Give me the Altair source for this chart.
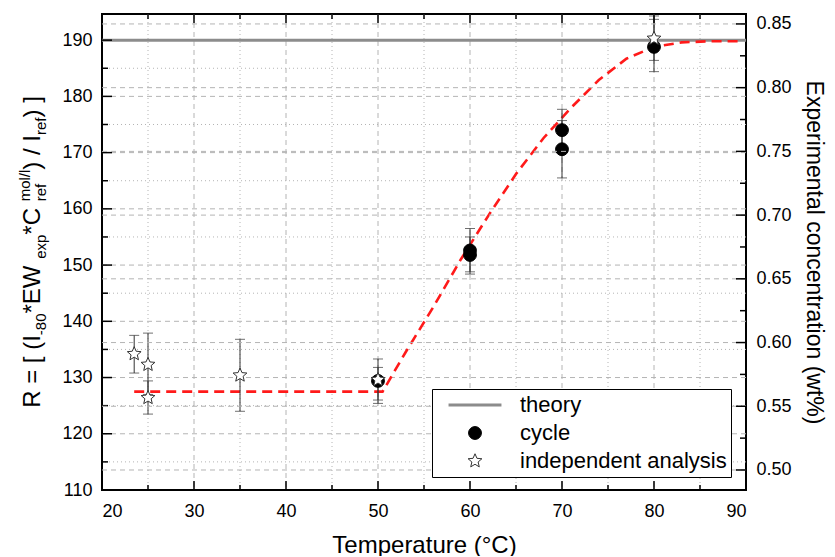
import altair as alt
import pandas as pd

# ---------------- data ----------------
temp_cycle = [50, 60, 60, 70, 70, 80]
r_cycle = [129.4, 152.6, 151.8, 174.0, 170.6, 188.8]
lo_cycle = [125.4, 148.4, 148.8, 170.3, 165.5, 184.4]
hi_cycle = [131.8, 156.5, 155.0, 177.7, 175.7, 193.7]

temp_ind = [23.5, 25, 25, 35, 50, 80]
r_ind = [134.2, 132.3, 126.4, 130.4, 129.6, 190.3]
lo_ind = [130.8, 127.0, 123.5, 124.0, 126.0, 186.4]
hi_ind = [137.5, 137.9, 129.4, 136.8, 133.3, 194.3]

fit_t = [23.5, 50.5, 53, 56, 59, 62, 65, 68, 71, 74, 77, 80, 83, 86, 89.5]
fit_r = [127.5, 127.5, 134.5, 142.5, 151.0, 158.8, 166.2, 172.6, 178.0, 182.9, 186.7, 188.8, 189.6, 189.8, 189.8]

theory_r = [190]

x_major = [20, 30, 40, 50, 60, 70, 80, 90]
x_minor = [25, 35, 45, 55, 65, 75, 85]
left_major = [110, 120, 130, 140, 150, 160, 170, 180, 190]
left_minor = [115, 125, 135, 145, 155, 165, 175, 185]
right_major = [0.50, 0.55, 0.60, 0.65, 0.70, 0.75, 0.80, 0.85]
right_minor = [0.525, 0.575, 0.625, 0.675, 0.725, 0.775, 0.825]

series = ["theory", "cycle", "independent analysis"]

# ---------------- layout ----------------
W, H = 644, 476
FONT = "Liberation Sans"
GRID = "#b4b4b4"
ERR = "#333333"

xs = alt.Scale(domain=[20, 90], nice=False, zero=False)
yl = alt.Scale(domain=[110, 194.65], nice=False, zero=False)
yr = alt.Scale(domain=[0.4843, 0.8578], nice=False, zero=False)

STAR = ("M0,-1L0.27,-0.37L0.95,-0.31L0.43,0.14L0.59,0.81L0,0.45L-0.59,0.81"
        "L-0.43,0.14L-0.95,-0.31L-0.27,-0.37Z")

leg = alt.Legend(title=None, orient="none", legendX=330, legendY=375,
                 labelFontSize=22, labelFont=FONT, labelColor="black", labelLimit=0,
                 padding=4, strokeColor="black", fillColor="white",
                 clipHeight=24, rowPadding=4, symbolOffset=11, labelOffset=17,
                 symbolOpacity=1)

shape_enc = alt.Shape("series:N", scale=alt.Scale(domain=series, range=["stroke", "circle", STAR]), legend=leg)
fill_enc = alt.Fill("series:N", scale=alt.Scale(domain=series, range=["#8c8c8c", "black", "white"]), legend=leg)
stroke_enc = alt.Stroke("series:N", scale=alt.Scale(domain=series, range=["#8c8c8c", "black", "#333333"]), legend=leg)
size_enc = alt.Size("series:N", scale=alt.Scale(type="ordinal", domain=series, range=[2800, 165, 210]), legend=leg)
sw_enc = alt.StrokeWidth("series:N", scale=alt.Scale(type="ordinal", domain=series, range=[3, 1, 1]), legend=leg)

df_x_major = pd.DataFrame({"t": x_major[1:-1]})
df_x_minor = pd.DataFrame({"t": x_minor})
df_l_major = pd.DataFrame({"r": left_major[1:]})
df_l_minor = pd.DataFrame({"r": left_minor})
df_r_major = pd.DataFrame({"v": right_major})
df_r_minor = pd.DataFrame({"v": right_minor})
df_theory = pd.DataFrame({"r": theory_r, "series": ["theory"]})
df_fit = pd.DataFrame({"t": fit_t, "r": fit_r})
df_pts = pd.DataFrame({
    "t": temp_cycle + temp_ind,
    "r": r_cycle + r_ind,
    "lo": lo_cycle + lo_ind,
    "hi": hi_cycle + hi_ind,
    "series": ["cycle"] * len(temp_cycle) + ["independent analysis"] * len(temp_ind),
})

x_axis = alt.Axis(values=x_major, format="d", ticks=False, tickSize=0, domain=False, grid=False,
                  labelFontSize=18, labelFont=FONT, labelColor="black", labelPadding=12,
                  title="Temperature (°C)", titleFontSize=24, titleFont=FONT,
                  titleFontWeight="normal", titleColor="black", titlePadding=13)
yl_axis = alt.Axis(values=left_major, format="d", ticks=False, tickSize=0, domain=False, grid=False,
                   labelFontSize=18, labelFont=FONT, labelColor="black", labelPadding=10, title="")
yr_axis = alt.Axis(orient="right", values=right_major, format=".2f", ticks=False, tickSize=0,
                   domain=False, grid=False, labelFontSize=18, labelFont=FONT, labelColor="black",
                   labelPadding=10, title="Experimental concentration (wt%)", titleFontSize=23,
                   titleFont=FONT, titleFontWeight="normal", titleColor="black", titleAngle=90,
                   titlePadding=10)

def X(f):
    return alt.X(f, scale=xs, axis=x_axis)

def YL(f):
    return alt.Y(f, scale=yl, axis=yl_axis)

def YR(f):
    return alt.Y(f, scale=yr, axis=yr_axis)

# grid
g_xmaj = alt.Chart(df_x_major).mark_rule(color=GRID, strokeWidth=1, strokeDash=[5, 4]).encode(x=X("t:Q"))
g_xmin = alt.Chart(df_x_minor).mark_rule(color=GRID, strokeWidth=1, strokeDash=[1, 3]).encode(x=X("t:Q"))
g_lmaj = alt.Chart(df_l_major).mark_rule(color=GRID, strokeWidth=1, strokeDash=[5, 4]).encode(y=YL("r:Q"))
g_lmin = alt.Chart(df_l_minor).mark_rule(color=GRID, strokeWidth=1, strokeDash=[1, 3]).encode(y=YL("r:Q"))

theory = alt.Chart(df_theory).mark_rule().encode(y=YL("r:Q"), stroke=stroke_enc, strokeWidth=sw_enc)

fit = alt.Chart(df_fit).mark_line(color="#ff1a1a", strokeWidth=2.6, strokeDash=[10, 6]).encode(
    x=X("t:Q"), y=YL("r:Q"))

err = alt.Chart(df_pts).mark_rule(color=ERR, strokeWidth=1).encode(x=X("t:Q"), y=YL("lo:Q"), y2="hi:Q")
cap_lo = alt.Chart(df_pts).mark_tick(color=ERR, thickness=1, size=10, orient="horizontal").encode(
    x=X("t:Q"), y=YL("lo:Q"))
cap_hi = alt.Chart(df_pts).mark_tick(color=ERR, thickness=1, size=10, orient="horizontal").encode(
    x=X("t:Q"), y=YL("hi:Q"))

pts = alt.Chart(df_pts).mark_point(opacity=1).encode(
    x=X("t:Q"), y=YL("r:Q"),
    shape=shape_enc, fill=fill_enc, stroke=stroke_enc, size=size_enc, strokeWidth=sw_enc)

# inward ticks
def vticks(df, length):
    b = alt.Chart(df).mark_rule(color="black", strokeWidth=1.5).encode(
        x=X("t:Q"), y=alt.value(H), y2=alt.value(H - length))
    t = alt.Chart(df).mark_rule(color="black", strokeWidth=1.5).encode(
        x=X("t:Q"), y=alt.value(0), y2=alt.value(length))
    return [b, t]

def lticks(df, length):
    return [alt.Chart(df).mark_rule(color="black", strokeWidth=1.5).encode(
        y=YL("r:Q"), x=alt.value(0), x2=alt.value(length))]

ticks = (vticks(pd.DataFrame({"t": x_major}), 9) + vticks(pd.DataFrame({"t": x_minor}), 5)
         + lticks(pd.DataFrame({"r": left_major}), 10) + lticks(pd.DataFrame({"r": left_minor}), 6))

# left title with sub/superscripts
AW = {'R': 722, ' ': 278, '=': 584, '[': 278, '(': 333, 'I': 278, '-': 333, '8': 556, '0': 556,
      '*': 389, 'E': 667, 'W': 944, 'e': 556, 'x': 500, 'p': 556, 'C': 722, 'r': 333, 'f': 278,
      'm': 833, 'o': 556, 'l': 222, '/': 278, ')': 333, ']': 278}
MAIN, SUB = 24, 15
segs = [("R = [ (I", "main"), ("-80", "sub"), (" *EW", "main"), ("exp", "sub"), (" *C", "main"),
        ("mol/l", "sup"), ("ref", "subx"), (") / I", "main"), ("ref", "sub"), (") ]", "main")]

def tw(s, size):
    return sum(AW[c] for c in s) / 1000 * size

total = 0
for s, k in segs:
    if k == "main":
        total += tw(s, MAIN)
    elif k in ("sub", "sup"):
        total += tw(s, SUB)
base_x = -62
start_y = H / 2 + total / 2
title_layers = []
pos = 0
for s, k in segs:
    size = MAIN if k == "main" else SUB
    shift = {"main": 0, "sub": 6, "subx": 6, "sup": -10}[k]
    seg_start = pos if k != "subx" else pos - tw("mol/l", SUB)
    title_layers.append(
        alt.Chart(alt.Data(values=[{}])).mark_text(
            angle=270, align="left", baseline="alphabetic", font=FONT, fontSize=size, color="black"
        ).encode(text=alt.value(s), x=alt.value(base_x + shift), y=alt.value(start_y - seg_start)))
    if k != "subx":
        pos += tw(s, size)

left = alt.layer(g_xmin, g_xmaj, g_lmin, g_lmaj, theory, fit, err, cap_lo, cap_hi, pts,
                 *ticks, *title_layers)

r_grid = alt.Chart(df_r_major).mark_rule(color=GRID, strokeWidth=1, strokeDash=[5, 4]).encode(y=YR("v:Q"))
r_t1 = alt.Chart(df_r_major).mark_rule(color="black", strokeWidth=1.5).encode(
    y=YR("v:Q"), x=alt.value(W - 10), x2=alt.value(W))
r_t2 = alt.Chart(df_r_minor).mark_rule(color="black", strokeWidth=1.5).encode(
    y=YR("v:Q"), x=alt.value(W - 6), x2=alt.value(W))
right = alt.layer(r_grid, r_t1, r_t2)

chart = alt.layer(left, right).resolve_scale(y="independent").properties(
    width=W, height=H, autosize=alt.AutoSizeParams(type="none"),
    padding={"left": 94, "top": 6, "right": 81, "bottom": 66},
    background="white",
).configure_view(stroke="black", strokeWidth=2)

chart.save("out.html", embed_options={"renderer": "svg", "actions": False})
